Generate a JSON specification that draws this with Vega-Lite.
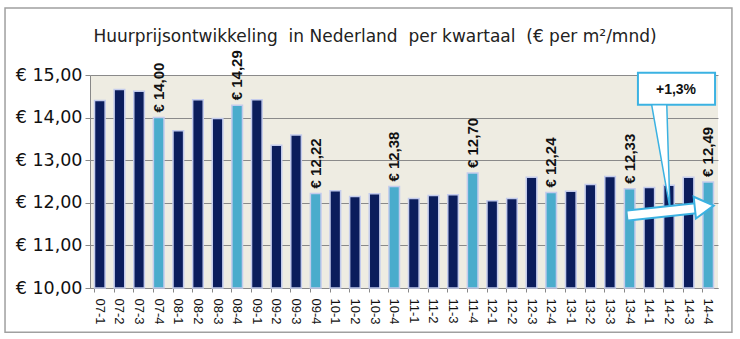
{
  "$schema": "https://vega.github.io/schema/vega-lite/v6.json",
  "width": 628,
  "height": 213,
  "autosize": "none",
  "padding": {"left": 90, "top": 75, "right": 22, "bottom": 51},
  "background": "white",
  "config": {
    "view": {"stroke": null, "fill": "#eeece2"},
    "locale": {"number": {"decimal": ",", "thousands": ".", "grouping": [3], "currency": ["€ ", ""]}},
    "font": "Liberation Sans"
  },
  "title": {
    "text": "Huurprijsontwikkeling\u00a0 in Nederland\u00a0 per kwartaal\u00a0 (€ per m²/mnd)",
    "font": "DejaVu Sans",
    "fontSize": 17,
    "fontWeight": "normal",
    "color": "#222222",
    "anchor": "middle",
    "frame": "group",
    "dx": -29,
    "offset": -39
  },
  "datasets": {
    "rent": [
      {"kwartaal": "07-1", "prijs": 14.40}, {"kwartaal": "07-2", "prijs": 14.66}, {"kwartaal": "07-3", "prijs": 14.62}, {"kwartaal": "07-4", "prijs": 14.00},
      {"kwartaal": "08-1", "prijs": 13.69}, {"kwartaal": "08-2", "prijs": 14.42}, {"kwartaal": "08-3", "prijs": 13.98}, {"kwartaal": "08-4", "prijs": 14.29},
      {"kwartaal": "09-1", "prijs": 14.42}, {"kwartaal": "09-2", "prijs": 13.35}, {"kwartaal": "09-3", "prijs": 13.59}, {"kwartaal": "09-4", "prijs": 12.22},
      {"kwartaal": "10-1", "prijs": 12.28}, {"kwartaal": "10-2", "prijs": 12.15}, {"kwartaal": "10-3", "prijs": 12.21}, {"kwartaal": "10-4", "prijs": 12.38},
      {"kwartaal": "11-1", "prijs": 12.10}, {"kwartaal": "11-2", "prijs": 12.17}, {"kwartaal": "11-3", "prijs": 12.19}, {"kwartaal": "11-4", "prijs": 12.70},
      {"kwartaal": "12-1", "prijs": 12.05}, {"kwartaal": "12-2", "prijs": 12.10}, {"kwartaal": "12-3", "prijs": 12.60}, {"kwartaal": "12-4", "prijs": 12.24},
      {"kwartaal": "13-1", "prijs": 12.27}, {"kwartaal": "13-2", "prijs": 12.43}, {"kwartaal": "13-3", "prijs": 12.62}, {"kwartaal": "13-4", "prijs": 12.33},
      {"kwartaal": "14-1", "prijs": 12.36}, {"kwartaal": "14-2", "prijs": 12.41}, {"kwartaal": "14-3", "prijs": 12.60}, {"kwartaal": "14-4", "prijs": 12.49}
    ],
    "frame": [{"x": -4.33, "x2": 32.71, "y": 16.57, "y2": 8.96}],
    "box": [{"x": 27.92, "x2": 31.85, "y": 15.05, "y2": 14.30, "label": "+1,3%", "lx": 29.86, "ly": 14.65}],
    "pointer": [
      {"y": 14.30, "x": 28.62, "x2": 29.39},
      {"y": 11.87, "x": 29.55, "x2": 29.55}
    ],
    "arrow": [
      {"x": 27.41, "y": 11.70},
      {"x": 31.0, "y": 11.88}
    ],
    "head": [{"x": 31.3, "y": 11.91}]
  },
  "layer": [
    {
      "data": {"name": "rent"},
      "encoding": {
        "x": {
          "field": "kwartaal",
          "type": "nominal",
          "sort": null,
          "scale": {"paddingInner": 0.46, "paddingOuter": 0.23},
          "axis": {
            "title": null,
            "labelAngle": 90,
            "labelAlign": "left",
            "labelBaseline": "middle",
            "labelFont": "Liberation Sans",
            "labelFontSize": 13,
            "labelColor": "#111111",
            "labelPadding": 6,
            "bandPosition": 0,
            "labelOffset": 0,
            "tickSize": 4,
            "tickColor": "#888888",
            "domainColor": "#888888",
            "grid": false
          }
        },
        "y": {
          "field": "prijs",
          "type": "quantitative",
          "scale": {"domain": [10, 15], "nice": false, "zero": false},
          "axis": {
            "title": null,
            "values": [10, 11, 12, 13, 14, 15],
            "format": "$.2f",
            "labelFont": "DejaVu Sans",
            "labelFontSize": 17.5,
            "labelColor": "#111111",
            "labelPadding": 3,
            "tickSize": 5,
            "tickColor": "#888888",
            "domainColor": "#888888",
            "gridColor": "#8a8a8a",
            "gridWidth": 1
          }
        }
      },
      "layer": [
        {
          "mark": {"type": "bar", "stroke": "#c3cbec", "strokeWidth": 1.5},
          "encoding": {
            "y2": {"datum": 10},
            "color": {
              "condition": {"test": "slice(datum.kwartaal, -1) == '4'", "value": "#4aaccc"},
              "value": "#0b1d5c"
            }
          }
        },
        {
          "transform": [{"filter": "slice(datum.kwartaal, -1) == '4'"}],
          "mark": {"type": "text", "angle": 270, "align": "left", "baseline": "middle", "dx": 5, "font": "Liberation Sans", "fontSize": 15, "fontWeight": "bold", "color": "#111111"},
          "encoding": {"text": {"field": "prijs", "type": "quantitative", "format": "$.2f"}}
        }
      ]
    },
    {
      "layer": [
        {
          "data": {"name": "frame"},
          "mark": {"type": "rect", "fill": null, "stroke": "#a0a0a0", "strokeWidth": 1.5},
          "encoding": {
            "x": {"field": "x", "type": "quantitative", "scale": {"domain": [0, 32], "nice": false, "zero": false}, "axis": null},
            "x2": {"field": "x2"},
            "y": {"field": "y", "type": "quantitative"},
            "y2": {"field": "y2"}
          }
        },
        {
          "data": {"name": "box"},
          "mark": {"type": "rect", "fill": "white", "stroke": "#3bb2e2", "strokeWidth": 2},
          "encoding": {
            "x": {"field": "x", "type": "quantitative"},
            "x2": {"field": "x2"},
            "y": {"field": "y", "type": "quantitative"},
            "y2": {"field": "y2"}
          }
        },
        {
          "data": {"name": "box"},
          "mark": {"type": "text", "font": "Liberation Sans", "fontSize": 14, "fontWeight": "bold", "color": "#111111", "align": "center", "baseline": "middle"},
          "encoding": {
            "x": {"field": "lx", "type": "quantitative"},
            "y": {"field": "ly", "type": "quantitative"},
            "text": {"field": "label"}
          }
        },
        {
          "data": {"name": "pointer"},
          "mark": {"type": "area", "orient": "horizontal", "fill": "white", "stroke": "#3bb2e2", "strokeWidth": 1.5},
          "encoding": {
            "y": {"field": "y", "type": "quantitative"},
            "x": {"field": "x", "type": "quantitative"},
            "x2": {"field": "x2"}
          }
        },
        {
          "data": {"name": "arrow"},
          "mark": {"type": "line", "color": "#3bb2e2", "strokeWidth": 12, "strokeCap": "butt"},
          "encoding": {
            "x": {"field": "x", "type": "quantitative"},
            "y": {"field": "y", "type": "quantitative"}
          }
        },
        {
          "data": {"name": "arrow"},
          "mark": {"type": "line", "color": "white", "strokeWidth": 8, "strokeCap": "butt"},
          "encoding": {
            "x": {"field": "x", "type": "quantitative"},
            "y": {"field": "y", "type": "quantitative"}
          }
        },
        {
          "data": {"name": "head"},
          "mark": {"type": "point", "shape": "triangle-right", "filled": true, "fill": "white", "stroke": "#3bb2e2", "strokeWidth": 2, "size": 480, "angle": -6, "opacity": 1},
          "encoding": {
            "x": {"field": "x", "type": "quantitative"},
            "y": {"field": "y", "type": "quantitative"}
          }
        }
      ]
    }
  ],
  "resolve": {"scale": {"x": "independent"}}
}
